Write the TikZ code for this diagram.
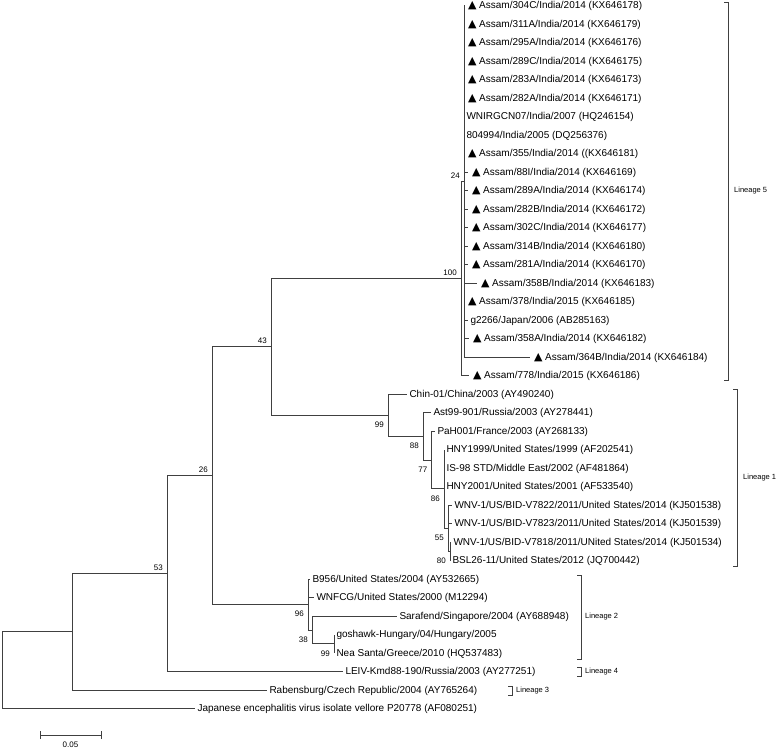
\documentclass[tikz,border=0pt]{standalone}
\usepackage{fontspec}
\setmainfont{Liberation Sans}
\newfontfamily\symfont{DejaVu Sans}
\usetikzlibrary{calc,positioning}
% filled marker in front of the Assam isolates
\newcommand{\tri}{\hspace{1.5pt}{\symfont\fontsize{11}{11}\selectfont\char"25B2}\ }

\begin{document}
\begin{tikzpicture}[x=1pt,y=-1pt,
    br/.style={draw=black!75,line width=0.8pt},
    leaf/.style={anchor=west,inner xsep=2.5pt,inner ysep=0pt,outer sep=0pt,
      text height=7.5pt,text depth=1pt,font=\fontsize{10}{12}\selectfont},
    bsa/.style={anchor=base east,inner sep=0pt,xshift=-4pt,yshift=3pt,
      font=\fontsize{8}{10}\selectfont},
    bsb/.style={anchor=base east,inner sep=0pt,xshift=-4pt,yshift=-12.5pt,
      font=\fontsize{8}{10}\selectfont},
    lin/.style={anchor=west,inner sep=0pt,font=\fontsize{7.5}{9}\selectfont}]
  \useasboundingbox (0,0) rectangle (778,749);

  % internal nodes
  \coordinate (root) at (2,670.15);
  \coordinate (n72)  at (72,631.8);
  \coordinate (n53)  at (167,573.55);
  \coordinate (n26)  at (212,475.6);
  \coordinate (n43)  at (271,346.75);
  \coordinate (n100) at (461,278.4);
  \coordinate (n24)  at (464,181.25);
  \coordinate (n99)  at (388,415.1);
  \coordinate (n88)  at (423,436.2);
  \coordinate (n77)  at (431.5,459.9);
  \coordinate (n86)  at (444,488.8);
  \coordinate (n55)  at (448,528.1);
  \coordinate (n80)  at (450,551.25);
  \coordinate (n96)  at (308,604.45);
  \coordinate (n38)  at (312,629.9);
  \coordinate (n99b) at (334,643.75);

  % lineage 5
  \node[leaf] (l304C) at (464,5.5)   {\tri Assam/304C/India/2014 (KX646178)};
  \node[leaf] (l311A) at (464,24)    {\tri Assam/311A/India/2014 (KX646179)};
  \node[leaf] (l295A) at (464,42.5)  {\tri Assam/295A/India/2014 (KX646176)};
  \node[leaf] (l289C) at (464,61)    {\tri Assam/289C/India/2014 (KX646175)};
  \node[leaf] (l283A) at (464,79.5)  {\tri Assam/283A/India/2014 (KX646173)};
  \node[leaf] (l282A) at (464,98)    {\tri Assam/282A/India/2014 (KX646171)};
  \node[leaf] (lWN)   at (464,116.5) {WNIRGCN07/India/2007 (HQ246154)};
  \node[leaf] (l8049) at (464,135)   {804994/India/2005 (DQ256376)};
  \node[leaf] (l355)  at (464,153.5) {\tri Assam/355/India/2014 ((KX646181)};
  \node[leaf] (l88I)  at (468,172)   {\tri Assam/88I/India/2014 (KX646169)};
  \node[leaf] (l289A) at (468,190.5) {\tri Assam/289A/India/2014 (KX646174)};
  \node[leaf] (l282B) at (468,209)   {\tri Assam/282B/India/2014 (KX646172)};
  \node[leaf] (l302C) at (468,227.5) {\tri Assam/302C/India/2014 (KX646177)};
  \node[leaf] (l314B) at (468,246)   {\tri Assam/314B/India/2014 (KX646180)};
  \node[leaf] (l281A) at (468,264.5) {\tri Assam/281A/India/2014 (KX646170)};
  \node[leaf] (l358B) at (477,283)   {\tri Assam/358B/India/2014 (KX646183)};
  \node[leaf] (l378)  at (464,301.5) {\tri Assam/378/India/2015 (KX646185)};
  \node[leaf] (lg226) at (468,320)   {g2266/Japan/2006 (AB285163)};
  \node[leaf] (l358A) at (469,338.5) {\tri Assam/358A/India/2014 (KX646182)};
  \node[leaf] (l364B) at (530,357)   {\tri Assam/364B/India/2014 (KX646184)};
  \node[leaf] (l778)  at (469,375.5) {\tri Assam/778/India/2015 (KX646186)};

  % lineage 1
  \node[leaf] (lChin) at (407,394)   {Chin-01/China/2003 (AY490240)};
  \node[leaf] (lAst)  at (431,412.5) {Ast99-901/Russia/2003 (AY278441)};
  \node[leaf] (lPaH)  at (435,431)   {PaH001/France/2003 (AY268133)};
  \node[leaf] (lH99)  at (444,449.5) {HNY1999/United States/1999 (AF202541)};
  \node[leaf] (lIS98) at (444,468)   {IS-98 STD/Middle East/2002 (AF481864)};
  \node[leaf] (lH01)  at (444,486.5) {HNY2001/United States/2001 (AF533540)};
  \node[leaf] (lV22)  at (452,505)   {WNV-1/US/BID-V7822/2011/United States/2014 (KJ501538)};
  \node[leaf] (lV23)  at (452,523.5) {WNV-1/US/BID-V7823/2011/United States/2014 (KJ501539)};
  \node[leaf] (lV18)  at (451,542)   {WNV-1/US/BID-V7818/2011/UNited States/2014 (KJ501534)};
  \node[leaf] (lBSL)  at (450,560.5) {BSL26-11/United States/2012 (JQ700442)};

  % lineage 2, 4, 3 and outgroup
  \node[leaf] (lB956) at (310,579)   {B956/United States/2004 (AY532665)};
  \node[leaf] (lWNFC) at (314,597.5) {WNFCG/United States/2000 (M12294)};
  \node[leaf] (lSara) at (397,616)   {Sarafend/Singapore/2004 (AY688948)};
  \node[leaf] (lgos)  at (334,634.5) {goshawk-Hungary/04/Hungary/2005};
  \node[leaf] (lNea)  at (334,653)   {Nea Santa/Greece/2010 (HQ537483)};
  \node[leaf] (lLEIV) at (343,671.5) {LEIV-Kmd88-190/Russia/2003 (AY277251)};
  \node[leaf] (lRab)  at (267,690)   {Rabensburg/Czech Republic/2004 (AY765264)};
  \node[leaf] (lJEV)  at (195,708.5) {Japanese encephalitis virus isolate vellore P20778 (AF080251)};

  % branches
  \draw[br] (root) |- (n72) (root) |- (lJEV.west);
  \draw[br] (n72) |- (n53) (n72) |- (lRab.west);
  \draw[br] (n53) |- (n26) (n53) |- (lLEIV.west);
  \draw[br] (n26) |- (n43) (n26) |- (n96);
  \draw[br] (n43) |- (n100) (n43) |- (n99);
  \draw[br] (n100) |- (n24) (n100) |- (l778.west);
  \foreach \s in {l304C,l311A,l295A,l289C,l283A,l282A,lWN,l8049,l355,l88I,
      l289A,l282B,l302C,l314B,l281A,l358B,l378,lg226,l358A,l364B}
    \draw[br] (n24) |- (\s.west);
  \draw[br] (n99) |- (lChin.west) (n99) |- (n88);
  \draw[br] (n88) |- (lAst.west) (n88) |- (n77);
  \draw[br] (n77) |- (lPaH.west) (n77) |- (n86);
  \draw[br] (n86) |- (lH99.west) (n86) |- (lIS98.west) (n86) |- (lH01.west) (n86) |- (n55);
  \draw[br] (n55) |- (lV22.west) (n55) |- (lV23.west) (n55) |- (n80);
  \draw[br] (n80) |- (lV18.west) (n80) |- (lBSL.west);
  \draw[br] (n96) |- (lB956.west) (n96) |- (lWNFC.west) (n96) |- (n38);
  \draw[br] (n38) |- (lSara.west) (n38) |- (n99b);
  \draw[br] (n99b) |- (lgos.west) (n99b) |- (lNea.west);

  % bootstrap values
  \node[bsa] (b24)  at (n24)  {24};
  \node[bsa] (b100) at (n100) {100};
  \node[bsa] (b43)  at (n43)  {43};
  \node[bsa] (b26)  at (n26)  {26};
  \node[bsa] (b53)  at (n53)  {53};
  \node[bsb] (b99)  at (n99)  {99};
  \node[bsb] (b88)  at (n88)  {88};
  \node[bsb] (b77)  at (n77)  {77};
  \node[bsb] (b86)  at (n86)  {86};
  \node[bsb] (b55)  at (n55)  {55};
  \node[bsb] (b80)  at (n80)  {80};
  \node[bsb] (b96)  at (n96)  {96};
  \node[bsb] (b38)  at (n38)  {38};
  \node[bsb] (b99b) at (n99b) {99};

  % lineage brackets
  \draw[br] (724,2) -- (728,2) -- (728,380) -- (724,380);
  \node[lin] (L5) at (734,191) {Lineage 5};
  \draw[br] (733,389) -- (737,389) -- (737,566) -- (733,566);
  \node[lin] (L1) at (743,477.5) {Lineage 1};
  \draw[br] (577,575) -- (581,575) -- (581,659) -- (577,659);
  \node[lin] (L2) at (585,617) {Lineage 2};
  \draw[br] (577,667) -- (581,667) -- (581,676) -- (577,676);
  \node[lin] (L4) at (585,672) {Lineage 4};
  \draw[br] (508,686) -- (512,686) -- (512,695) -- (508,695);
  \node[lin] (L3) at (516,690.5) {Lineage 3};

  % scale bar
  \draw[br] (40,731) -- (40,739) (40,735) -- (101,735) (101,731) -- (101,739);
  \node[inner sep=0pt,font=\fontsize{8}{10}\selectfont] (sc) at (70.5,745) {0.05};
\end{tikzpicture}
\end{document}
